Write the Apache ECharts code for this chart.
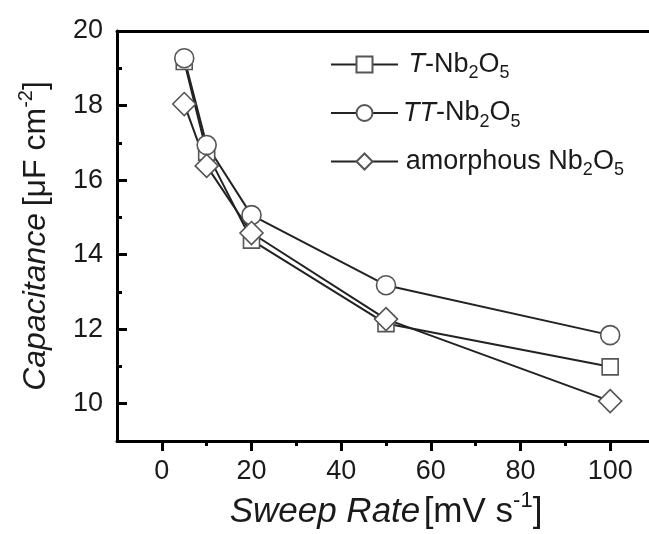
<!DOCTYPE html>
<html>
<head>
<meta charset="utf-8">
<script src="https://cdn.jsdelivr.net/npm/echarts@6/dist/echarts.min.js"></script>
<style>html,body{margin:0;padding:0;background:#fff;overflow:hidden;}#c{width:649px;height:534px;}</style>
</head>
<body>
<div id="c"></div>
<script>
var sweepRates = [5, 10, 20, 50, 100];
var tNb2O5 = [19.18, 16.75, 14.39, 12.15, 10.99];
var ttNb2O5 = [19.27, 16.94, 15.06, 13.18, 11.84];
var amorphousNb2O5 = [18.04, 16.38, 14.58, 12.27, 10.07];
var seriesNames = ['T-Nb2O5', 'TT-Nb2O5', 'amorphous Nb2O5'];
var xMajorTicks = [0, 20, 40, 60, 80, 100];
var xMinorTicks = [10, 30, 50, 70, 90];
var yMajorTicks = [10, 12, 14, 16, 18, 20];
var yMinorTicks = [11, 13, 15, 17, 19];

var FONT = 'Liberation Sans';
var TXT = '#1a1a1a';

function pairs(ys) { return sweepRates.map(function (x, i) { return [x, ys[i]]; }); }

var legendLabels = {
  'T-Nb2O5': '{g|  }{i|T}{n|-Nb}{s|2}{n|O}{s|5}',
  'TT-Nb2O5': '{i|TT}{n|-Nb}{s|2}{n|O}{s|5}',
  'amorphous Nb2O5': '{g| }{n|amorphous Nb}{s|2}{n|O}{s|5}'
};

var markerStyle = { color: '#fff', borderColor: '#555', borderWidth: 1.6 };
var lineStyle = { color: '#222', width: 2 };

function mkSeries(name, ys, symbol, size) {
  return {
    name: name, type: 'line', data: pairs(ys),
    symbol: symbol, symbolSize: size, showAllSymbol: true,
    lineStyle: lineStyle, itemStyle: markerStyle,
    emphasis: { disabled: true }, animation: false
  };
}

var gridBox = { left: 117, top: 31, width: 538, height: 410, containLabel: false, outerBoundsMode: 'none', show: false };
var tickLine = { color: '#000', width: 3 };

var chart = echarts.init(document.getElementById('c'), null, { renderer: 'canvas' });
chart.setOption({
  backgroundColor: '#fff',
  animation: false,
  grid: [Object.assign({}, gridBox), Object.assign({}, gridBox)],
  legend: {
    left: 330, top: 51, orient: 'vertical', padding: 0, itemWidth: 67, itemHeight: 20, itemGap: 17,
    data: seriesNames,
    formatter: function (n) { return legendLabels[n]; },
    textStyle: {
      fontFamily: FONT, color: TXT,
      rich: {
        n: { fontSize: 27, fontFamily: FONT, color: TXT, lineHeight: 36, verticalAlign: 'middle' },
        i: { fontSize: 27, fontFamily: FONT, fontStyle: 'italic', color: TXT, lineHeight: 36, verticalAlign: 'middle' },
        s: { fontSize: 18, fontFamily: FONT, color: TXT, lineHeight: 14, verticalAlign: 'bottom' },
        g: { fontSize: 10, fontFamily: FONT, lineHeight: 36 }
      }
    }
  },
  xAxis: [{
    gridIndex: 0, type: 'value', min: -10, max: 110,
    axisLine: { show: true, onZero: false, lineStyle: { color: '#000', width: 3 } },
    axisTick: { show: true, inside: false, length: 10, lineStyle: tickLine, customValues: xMajorTicks },
    axisLabel: { customValues: xMajorTicks, fontSize: 27, fontFamily: FONT, color: TXT, margin: 17 },
    splitLine: { show: false },
    name: '{i|Sweep Rate} {n|[mV s}{p|-1}{n|]}',
    nameLocation: 'middle', nameGap: 42,
    nameTextStyle: {
      rich: {
        i: { fontSize: 35, fontFamily: FONT, fontStyle: 'italic', color: TXT, lineHeight: 44, verticalAlign: 'middle' },
        n: { fontSize: 35, fontFamily: FONT, color: TXT, lineHeight: 44, verticalAlign: 'middle' },
        p: { fontSize: 22, fontFamily: FONT, color: TXT, lineHeight: 20, verticalAlign: 'top' }
      }
    }
  }, {
    gridIndex: 1, type: 'value', min: -10, max: 110, position: 'bottom',
    axisLine: { show: false, onZero: false },
    axisTick: { show: true, inside: false, length: 5, lineStyle: tickLine, customValues: xMinorTicks },
    axisLabel: { show: false }, splitLine: { show: false }
  }, {
    gridIndex: 1, type: 'value', min: -10, max: 110, position: 'top',
    axisLine: { show: true, onZero: false, lineStyle: { color: '#000', width: 3 } },
    axisTick: { show: false }, axisLabel: { show: false }, splitLine: { show: false }
  }],
  yAxis: [{
    gridIndex: 0, type: 'value', min: 9, max: 20,
    axisLine: { show: true, onZero: false, lineStyle: { color: '#000', width: 3 } },
    axisTick: { show: true, inside: true, length: 10, lineStyle: tickLine, customValues: yMajorTicks },
    axisLabel: { customValues: yMajorTicks, fontSize: 27, fontFamily: FONT, color: TXT, margin: 14 },
    splitLine: { show: false },
    name: '{i|Capacitance}  {n|[μF cm}{p|-2}{n|]}',
    nameLocation: 'middle', nameGap: 61, nameRotate: 90,
    nameTextStyle: {
      rich: {
        i: { fontSize: 32, fontFamily: FONT, fontStyle: 'italic', color: TXT, lineHeight: 40, verticalAlign: 'middle' },
        n: { fontSize: 32, fontFamily: FONT, color: TXT, lineHeight: 40, verticalAlign: 'middle' },
        p: { fontSize: 20, fontFamily: FONT, color: TXT, lineHeight: 18, verticalAlign: 'top' }
      }
    }
  }, {
    gridIndex: 1, type: 'value', min: 9, max: 20, position: 'left',
    axisLine: { show: false, onZero: false },
    axisTick: { show: true, inside: true, length: 5, lineStyle: tickLine, customValues: yMinorTicks },
    axisLabel: { show: false }, splitLine: { show: false }
  }],
  series: [
    mkSeries('T-Nb2O5', tNb2O5, 'rect', 16),
    mkSeries('TT-Nb2O5', ttNb2O5, 'circle', 19),
    mkSeries('amorphous Nb2O5', amorphousNb2O5, 'diamond', 23)
  ]
});
</script>
</body>
</html>
